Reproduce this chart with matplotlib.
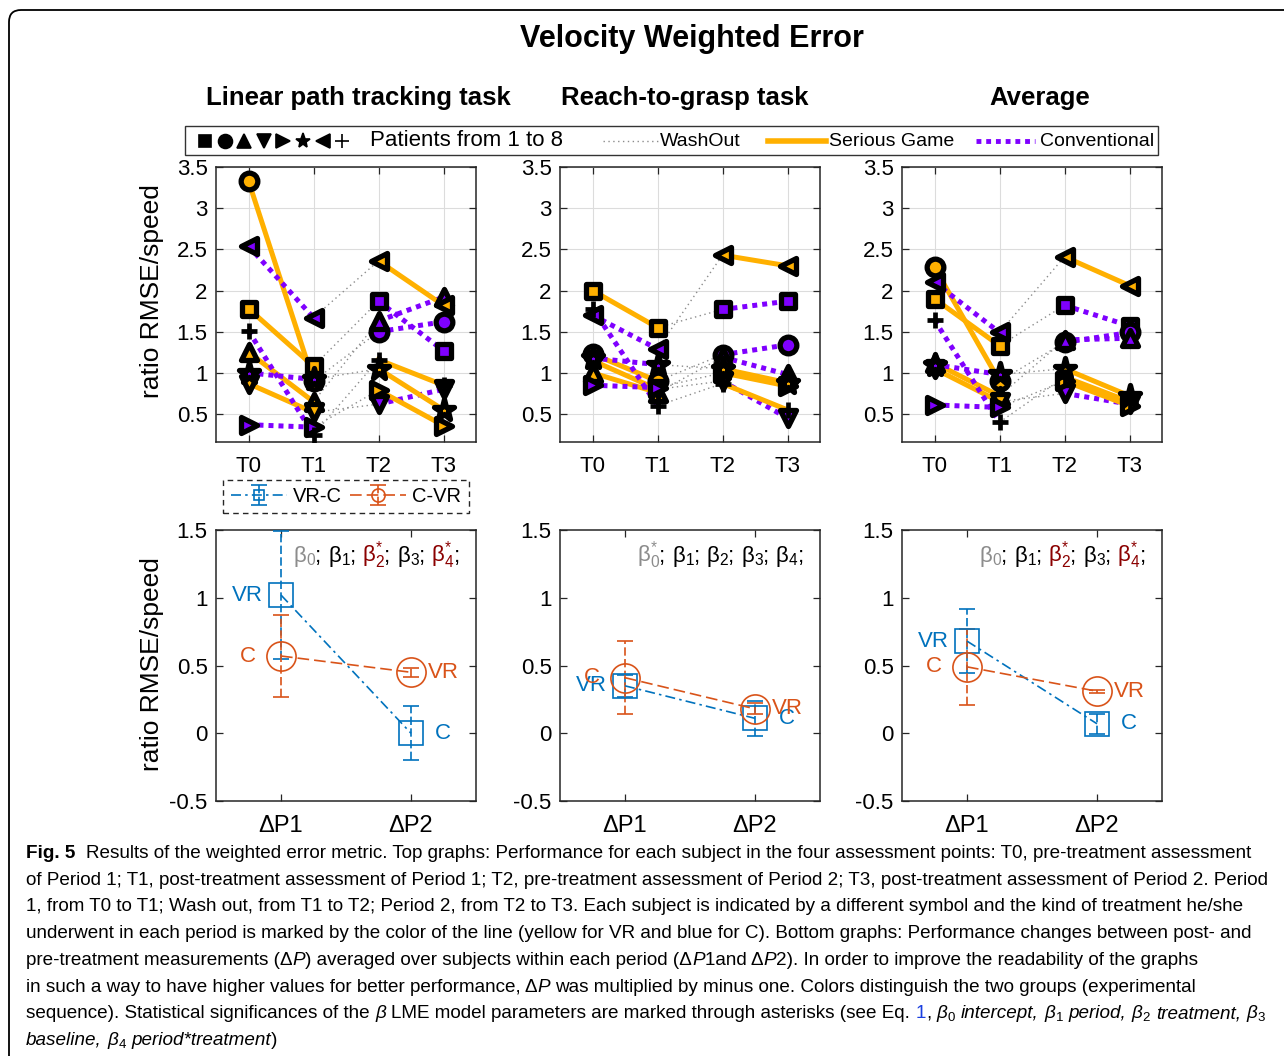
#!/usr/bin/env python3
"""Velocity weighted error: per-patient trajectories (top) and group changes (bottom)."""

import matplotlib
matplotlib.use("Agg")
import matplotlib.pyplot as plt
import numpy as np
from matplotlib import font_manager
from matplotlib.lines import Line2D
from matplotlib.markers import MarkerStyle
from matplotlib.patches import FancyBboxPatch, Rectangle
from matplotlib.transforms import Affine2D, IdentityTransform, offset_copy

W, H = 1284, 1056

time_points = ["T0", "T1", "T2", "T3"]
delta_labels = ["ΔP1", "ΔP2"]
task_titles = ["Linear path tracking task", "Reach-to-grasp task", "Average"]
top_yticks = [0.5, 1, 1.5, 2, 2.5, 3, 3.5]
bottom_yticks = [-0.5, 0, 0.5, 1, 1.5]

# patients 1..8; the first four did the Serious Game first, the others Conventional first
patient_markers = ["s", "o", "^", "v", ">", "*", "<", "+"]
vr_first = [True, True, True, True, False, False, False, False]

# ratio RMSE/speed at T0..T3, one row per patient
linear_vals = [
    [1.78, 1.08, 1.87, 1.27],
    [3.33, 0.90, 1.50, 1.62],
    [1.25, 0.65, 1.63, 1.92],
    [0.87, 0.52, 0.62, 0.80],
    [0.37, 0.34, 0.79, 0.36],
    [1.00, 0.92, 1.05, 0.55],
    [2.54, 1.67, 2.36, 1.82],
    [1.51, 0.25, 1.16, 0.85],
]
reach_vals = [
    [2.00, 1.55, 1.77, 1.87],
    [1.23, 0.90, 1.22, 1.34],
    [1.00, 0.76, 1.19, 0.98],
    [1.15, 0.80, 0.90, 0.45],
    [0.85, 0.82, 1.00, 0.84],
    [1.18, 1.10, 1.05, 0.88],
    [1.70, 1.29, 2.43, 2.30],
    [1.78, 0.60, 0.87, 0.55],
]
average_vals = [
    [1.90, 1.33, 1.82, 1.57],
    [2.28, 0.90, 1.37, 1.49],
    [1.12, 0.72, 1.40, 1.42],
    [1.05, 0.65, 0.75, 0.62],
    [0.61, 0.58, 0.90, 0.60],
    [1.10, 0.98, 1.05, 0.72],
    [2.10, 1.49, 2.41, 2.06],
    [1.64, 0.40, 0.95, 0.65],
]

# group mean of -dP per period, with error bars
linear_vrc = [1.02, 0.00]
linear_vrc_err = [0.47, 0.20]
linear_cvr = [0.57, 0.45]
linear_cvr_err = [0.30, 0.035]
reach_vrc = [0.35, 0.11]
reach_vrc_err = [0.08, 0.13]
reach_cvr = [0.41, 0.18]
reach_cvr_err = [0.27, 0.04]
average_vrc = [0.68, 0.07]
average_vrc_err = [0.235, 0.075]
average_cvr = [0.49, 0.31]
average_cvr_err = [0.28, 0.012]

# LME parameter significance (beta0..beta4)
linear_beta_sig = [False, False, True, False, True]
reach_beta_sig = [True, False, False, False, False]
average_beta_sig = [False, False, True, False, True]

SG = "#FFB000"
CONV = "#7F00FF"
WASH = "#8c8c8c"
BLUE = "#0072BD"
RED = "#D95319"
DARKRED = "#8B0000"
AXC = "#262626"

names = {f.name for f in font_manager.fontManager.ttflist}
CAP_FONT = "Liberation Sans Narrow" if "Liberation Sans Narrow" in names else "Liberation Sans"

plt.rcParams["font.family"] = ["Liberation Sans", "DejaVu Sans"]
plt.rcParams["mathtext.fontset"] = "custom"
plt.rcParams["mathtext.rm"] = "Liberation Sans"
plt.rcParams["mathtext.it"] = CAP_FONT + ":italic"
plt.rcParams["mathtext.bf"] = "Liberation Sans:bold"

MS = {"s": 9.5, "o": 12, "^": 11, "v": 11, ">": 11, "<": 11, "*": 15.5, "+": 11.5}
LEG_MS = {"s": 8, "o": 10, "^": 9.5, "v": 9.5, ">": 9.5, "<": 9.5, "*": 11, "+": 10}

fig = plt.figure(figsize=(W / 100, H / 100), dpi=100)


def px_axes(left, top, right, bottom):
    return fig.add_axes([left / W, 1 - bottom / H, (right - left) / W, (bottom - top) / H])


def style_axes(ax):
    for sp in ax.spines.values():
        sp.set_color(AXC)
        sp.set_linewidth(1.1)
    ax.tick_params(direction="in", top=True, right=True, length=5, width=0.9,
                   color=AXC, labelsize=16, pad=6)
    ax.tick_params(axis="x", pad=10)


def run_width(renderer, s, kw):
    t = fig.text(0, 0, "|" + s + "|", **kw)
    w = t.get_window_extent(renderer).width
    t.set_text("||")
    w -= t.get_window_extent(renderer).width
    t.remove()
    return w


def place_runs(base, runs, size, family=None, draw=True):
    renderer = fig.canvas.get_renderer()
    dx = 0.0
    for s, style in runs:
        kw = {"fontsize": size, **style}
        if family:
            kw["family"] = [family, "DejaVu Sans"]
        core = s.strip(" ")
        lead = len(s) - len(s.lstrip(" "))
        trail = len(s) - len(s.rstrip(" ")) if core else 0
        sp = run_width(renderer, " ", kw) if (lead or trail) else 0
        dx += lead * sp
        if core:
            if draw:
                fig.text(0, 0, core, transform=offset_copy(base, x=dx, y=0, units="dots"),
                         va="baseline", **kw)
            dx += run_width(renderer, core, kw)
        dx += trail * sp
    return dx


def draw_patients(ax, vals):
    x = np.arange(len(time_points))
    for k, row in enumerate(vals):
        m = patient_markers[k]
        mk = m if m == "+" else MarkerStyle(m, joinstyle="round")
        c1, c2 = (SG, CONV) if vr_first[k] else (CONV, SG)
        ax.plot(x[1:3], row[1:3], ls=(0, (1, 2.5)), color=WASH, lw=1.0, zorder=2)
        for seg, col in ((slice(0, 2), c1), (slice(2, 4), c2)):
            ls = "-" if col == SG else (0, (1, 1))
            ax.plot(x[seg], row[seg], ls=ls, color=col, lw=3.6, zorder=2)
            if m == "+":
                ax.plot(x[seg], row[seg], ls="none", marker=mk, ms=MS[m], mec="k", mew=3.4, zorder=3)
            else:
                ax.plot(x[seg], row[seg], ls="none", marker=mk, ms=MS[m], mfc=col, mec="k",
                        mew=3.8, zorder=3)
    ax.set_xlim(-0.5, 3.5)
    ax.set_xticks(x, time_points)
    ax.set_ylim(0.16, 3.5)
    ax.set_yticks(top_yticks, [f"{v:g}" for v in top_yticks])
    ax.grid(color="#dcdcdc", lw=0.8)
    ax.set_axisbelow(True)
    style_axes(ax)


def draw_changes(ax, vrc, vrc_err, cvr, cvr_err, sig):
    xs = np.arange(1, 3)
    eb_v = ax.errorbar(xs, vrc, yerr=vrc_err, color=BLUE, ls=(0, (6, 2.5, 1.5, 2.5)), lw=1.2,
                       marker="s", ms=17, mfc="none", mec=BLUE, mew=1.2, capsize=6,
                       capthick=1.2, elinewidth=1.2, label="VR-C", zorder=3)
    eb_c = ax.errorbar(xs, cvr, yerr=cvr_err, color=RED, ls=(0, (7, 3)), lw=1.2,
                       marker="o", ms=21, mfc="none", mec=RED, mew=1.2, capsize=6,
                       capthick=1.2, elinewidth=1.2, label="C-VR", zorder=3)
    for eb in (eb_v, eb_c):
        eb[2][0].set_linestyle((0, (5, 2)))

    groups = [(vrc, BLUE, ("VR", "C"), (-13, 17)), (cvr, RED, ("C", "VR"), (-18, 12))]
    for ys, col, labs, offs in groups:
        ax.annotate(labs[0], (xs[0], ys[0]), xytext=(offs[0], 0), textcoords="offset points",
                    ha="right", va="center", color=col, fontsize=16)
        ax.annotate(labs[1], (xs[1], ys[1]), xytext=(offs[1], 0), textcoords="offset points",
                    ha="left", va="center", color=col, fontsize=16)

    runs = []
    for i, s in enumerate(sig):
        col = WASH if i == 0 else (DARKRED if s else "k")
        sup = "^{*}" if s else ""
        runs.append((r"$\mathrm{\beta}_{" + str(i) + "}" + sup + "$", {"color": col}))
        runs.append(("; " if i < len(sig) - 1 else ";", {"color": "k"}))
    place_runs(Affine2D().translate(0.296, 0.882) + ax.transAxes, runs, 16)

    ax.set_xlim(0.5, 2.5)
    ax.set_xticks(xs, delta_labels)
    ax.set_ylim(-0.5, 1.5)
    ax.set_yticks(bottom_yticks, [f"{v:g}" for v in bottom_yticks])
    style_axes(ax)
    ax.tick_params(axis="x", labelsize=17)
    return eb_v, eb_c


col_left = [216, 560, 902]
top_data = [linear_vals, reach_vals, average_vals]
bottom_data = [
    (linear_vrc, linear_vrc_err, linear_cvr, linear_cvr_err, linear_beta_sig),
    (reach_vrc, reach_vrc_err, reach_cvr, reach_cvr_err, reach_beta_sig),
    (average_vrc, average_vrc_err, average_cvr, average_cvr_err, average_beta_sig),
]

for j in range(3):
    ax_t = px_axes(col_left[j], 167, col_left[j] + 260, 442)
    draw_patients(ax_t, top_data[j])
    ax_b = px_axes(col_left[j], 530, col_left[j] + 260, 801)
    handles = draw_changes(ax_b, *bottom_data[j])
    if j == 0:
        leg = ax_b.legend(handles=list(handles), loc="lower center",
                          bbox_to_anchor=(0.5, 1 + 17 / 271), borderaxespad=0, ncol=2,
                          fontsize=14.5, handlelength=2.8, columnspacing=0.4,
                          handletextpad=0.3, markerscale=0.45, borderpad=0.35,
                          fancybox=False, edgecolor=AXC, framealpha=1)
        leg.get_frame().set_linestyle((0, (4, 3)))
        leg.get_frame().set_linewidth(1.0)

# titles and axis labels
fig.text(692 / W, 1 - 39 / H, "Velocity Weighted Error", ha="center", va="center",
         fontsize=22, fontweight="bold")
for title, xc in zip(task_titles, [358, 685, 1040]):
    fig.text(xc / W, 1 - 98 / H, title, ha="center", va="center", fontsize=18.5, fontweight="bold")
for yc in (291, 664):
    fig.text(152 / W, 1 - yc / H, "ratio RMSE/speed", rotation=90, ha="center", va="center",
             fontsize=19)

# top legend (drawn in pixel coordinates)
ident = IdentityTransform()
leg_y = H - 141
fig.add_artist(Rectangle((185, H - 155), 973, 29, transform=ident, fill=False, ec="#333333", lw=1.0))
for i, m in enumerate(patient_markers):
    fig.add_artist(Line2D([205 + 19.6 * i], [leg_y], transform=ident, marker=m, ls="none",
                          color="k", ms=LEG_MS[m], mew=1.2))
fig.text(370, leg_y, "Patients from 1 to 8", transform=ident, va="center", fontsize=16)
leg_items = [((603, 658), WASH, (0, (1, 2.5)), 1.0, "WashOut", 660),
             ((768, 826), SG, "-", 4.0, "Serious Game", 829),
             ((976, 1035), CONV, (0, (1, 1)), 3.5, "Conventional", 1040)]
for xs_, col, ls, lw, lab, tx in leg_items:
    fig.add_artist(Line2D(list(xs_), [leg_y, leg_y], transform=ident, color=col, ls=ls, lw=lw))
    fig.text(tx, leg_y, lab, transform=ident, va="center", fontsize=14)

# outer rounded frame
fig.add_artist(FancyBboxPatch((9, -40), 1400, H - 10 + 40, boxstyle="round,pad=0,rounding_size=12",
                              transform=ident, fill=False, ec="k", lw=1.3))

# caption
N, B, I, BL = {}, {"fontweight": "bold"}, {"fontstyle": "italic"}, {"color": "#1a3fe0"}
caption = [
    [("Fig. 5", B), ("  Results of the weighted error metric. Top graphs: Performance for each subject "
                     "in the four assessment points: T0, pre-treatment assessment", N)],
    [("of Period 1; T1, post-treatment assessment of Period 1; T2, pre-treatment assessment of "
      "Period 2; T3, post-treatment assessment of Period 2. Period", N)],
    [("1, from T0 to T1; Wash out, from T1 to T2; Period 2, from T2 to T3. Each subject is indicated "
      "by a different symbol and the kind of treatment he/she", N)],
    [("underwent in each period is marked by the color of the line (yellow for VR and blue for C). "
      "Bottom graphs: Performance changes between post- and", N)],
    [("pre-treatment measurements (Δ", N), ("P", I), (") averaged over subjects within each period (Δ", N),
     ("P", I), ("1and Δ", N), ("P", I), ("2). In order to improve the readability of the graphs", N)],
    [("in such a way to have higher values for better performance, Δ", N), ("P", I),
     (" was multiplied by minus one. Colors distinguish the two groups (experimental", N)],
    [("sequence). Statistical significances of the ", N), (r"$\beta$", N),
     (" LME model parameters are marked through asterisks (see Eq. ", N), ("1", BL), (", ", N),
     (r"$\beta_0$", N), (" intercept, ", I), (r"$\beta_1$", N), (" period, ", I),
     (r"$\beta_2$", N), (" treatment, ", I), (r"$\beta_3$", N)],
    [("baseline, ", I), (r"$\beta_4$", N), (" period*treatment", I), (")", N)],
]
w14 = place_runs(Affine2D(), caption[0], 14, family=CAP_FONT, draw=False)
cap_size = 14 * (1264 - 26) / w14
for i, runs in enumerate(caption):
    base = Affine2D().translate(26, H - (858 + 26.7 * i))
    place_runs(base, runs, cap_size, family=CAP_FONT)

fig.savefig("out.png", dpi=100)
